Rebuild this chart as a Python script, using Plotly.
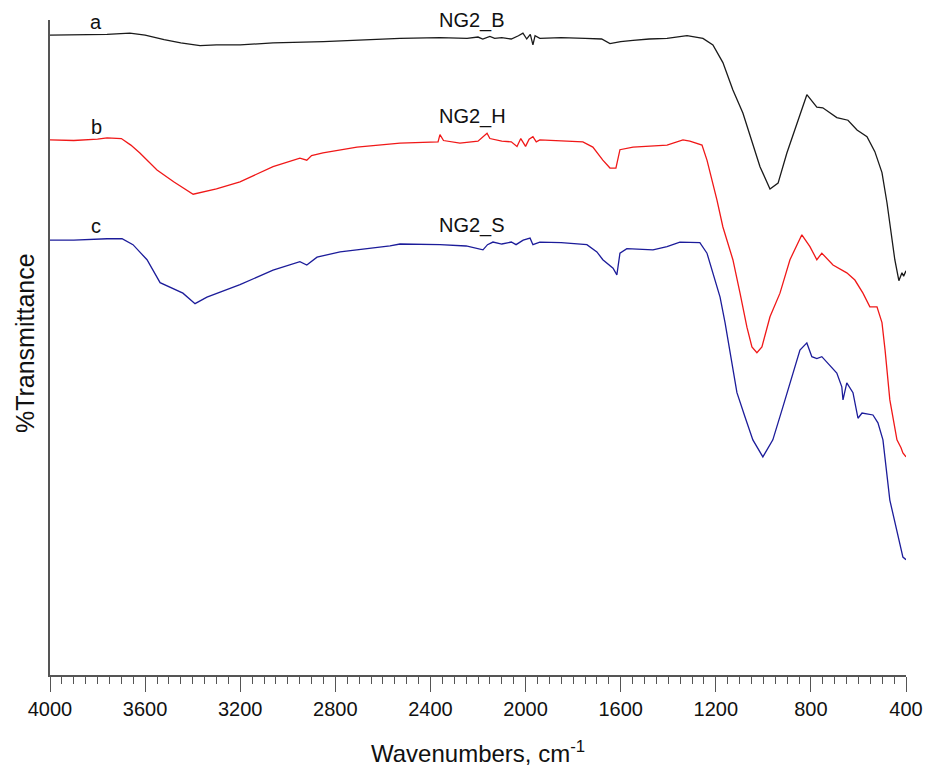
import plotly.graph_objects as go

# Wavenumbers (cm-1) and %Transmittance (arbitrary offset units)
wn_b = [4000, 3900, 3760, 3664, 3600, 3520, 3450, 3369, 3300, 3200, 3062, 2850, 2642, 2528, 2360, 2246, 2200, 2180,
        2150, 2130, 2100, 2060, 2030, 2011, 1995, 1980, 1969, 1960, 1940, 1850, 1750, 1680, 1645, 1600, 1548, 1480,
        1405, 1321, 1254, 1212, 1170, 1128, 1086, 1044, 1014, 972, 938, 901, 859, 817, 775, 750, 691, 644, 606, 564,
        531, 501, 480, 459, 447, 430, 417, 410, 400]
t_b = [97.7, 97.7, 97.8, 98.0, 97.7, 97.0, 96.5, 96.1, 96.2, 96.2, 96.5, 96.7, 97.0, 97.2, 97.3, 97.2, 97.4, 97.1,
       97.5, 97.2, 97.3, 97.1, 97.6, 98.0, 97.1, 97.8, 96.2, 97.6, 97.2, 97.3, 97.2, 97.1, 96.4, 96.7, 96.9, 97.1,
       97.2, 97.6, 97.2, 96.2, 93.5, 89.3, 85.8, 81.2, 77.6, 74.2, 75.1, 79.7, 84.3, 88.6, 86.7, 86.6, 85.1, 84.7, 83.2, 82.2,
       79.9, 76.7, 72.1, 66.4, 63.4, 60.2, 61.4, 60.9, 61.7]

wn_h = [4000, 3900, 3800, 3760, 3700, 3660, 3622, 3550, 3480, 3398, 3300, 3201, 3062, 2949, 2920, 2900, 2852, 2709,
        2528, 2368, 2360, 2345, 2276, 2200, 2162, 2150, 2100, 2060, 2036, 2020, 2000, 1985, 1969, 1955, 1940, 1850,
        1759, 1717, 1675, 1645, 1620, 1603, 1548, 1405, 1338, 1309, 1258, 1237, 1216, 1195, 1170, 1140, 1128, 1098,
        1069, 1048, 1027, 1006, 972, 930, 888, 838, 804, 775, 754, 707, 649, 615, 581, 552, 522, 501, 488, 468, 438,
        421, 413, 400]
t_h = [81.7, 81.6, 81.8, 82.0, 81.9, 80.9, 79.7, 77.1, 75.3, 73.4, 74.2, 75.3, 77.6, 78.9, 78.6, 79.3, 79.7, 80.6,
       81.2, 81.4, 82.5, 81.6, 81.2, 81.5, 82.7, 81.9, 81.5, 81.4, 80.7, 81.9, 80.7, 81.8, 82.2, 81.4, 81.7, 81.5,
       81.4, 80.6, 78.6, 77.4, 77.4, 80.2, 80.6, 80.9, 81.7, 81.5, 80.9, 78.6, 75.6, 72.5, 68.4, 64.9, 63.4, 58.3,
       53.1, 50.1, 49.2, 50.1, 54.7, 58.3, 63.4, 67.2, 65.4, 63.4, 64.4, 62.6, 61.4, 60.3, 58.3, 56.2, 56.2, 53.8, 49.6, 42.0, 35.9,
       34.7, 33.9, 33.3]

wn_s = [4000, 3900, 3760, 3697, 3651, 3592, 3537, 3495, 3441, 3390, 3340, 3201, 3062, 2949, 2920, 2877, 2780, 2570,
        2528, 2360, 2250, 2179, 2160, 2137, 2100, 2060, 2040, 2010, 1981, 1969, 1940, 1850, 1742, 1700, 1675, 1632,
        1616, 1603, 1574, 1464, 1405, 1351, 1309, 1267, 1237, 1212, 1182, 1161, 1140, 1111, 1077, 1044, 1002, 960,
        918, 888, 846, 817, 796, 775, 754, 691, 670, 665, 649, 623, 602, 585, 539, 518, 497, 468, 438, 421, 413, 400]
t_s = [66.4, 66.4, 66.6, 66.6, 65.7, 63.4, 59.9, 59.2, 58.3, 56.7, 57.7, 59.6, 61.8, 63.1, 62.6, 63.8, 64.6, 65.5,
       65.8, 65.7, 65.5, 64.9, 65.7, 66.1, 65.8, 66.1, 65.7, 66.4, 66.7, 65.7, 66.1, 66.0, 65.7, 64.6, 63.4, 62.1,
       61.1, 64.4, 65.1, 64.9, 65.4, 66.1, 66.1, 66.0, 64.4, 61.4, 57.7, 53.8, 49.2, 43.1, 39.4, 35.9, 33.3, 35.9,
       40.9, 44.6, 49.6, 50.7, 48.6, 48.3, 48.6, 46.1, 44.0, 42.0, 44.6, 43.1, 39.2, 40.0, 39.7, 38.5, 35.9, 26.7, 21.7, 18.8, 18.0, 17.6]

series = [
    ("NG2_B", "a", wn_b, t_b, "#1a1a1a"),
    ("NG2_H", "b", wn_h, t_h, "#f01818"),
    ("NG2_S", "c", wn_s, t_s, "#1c1c9a"),
]
# label positions (wavenumber, paper-y)
letter_wn = 3805
name_wn = 2225
label_y = [0.997, 0.837, 0.685]
name_y = [0.9985, 0.853, 0.687]

FONT = "Liberation Sans, Arial, sans-serif"

fig = go.Figure()
for name, letter, x, y, col in series:
    fig.add_trace(go.Scatter(x=x, y=y, mode="lines", name=name,
                             line=dict(color=col, width=1.3), showlegend=False))

ann = []
for i, (name, letter, x, y, col) in enumerate(series):
    ann.append(dict(x=letter_wn, y=label_y[i], xref="x", yref="paper", text=letter, showarrow=False,
                    font=dict(size=20, family=FONT, color="#111"), xanchor="center", yanchor="middle"))
    ann.append(dict(x=name_wn, y=name_y[i], xref="x", yref="paper", text=name, showarrow=False,
                    font=dict(size=20, family=FONT, color="#111"), xanchor="center", yanchor="middle"))

ann.append(dict(x=0.5, y=-0.118, xref="paper", yref="paper", text="Wavenumbers, cm<sup>-1</sup>",
                showarrow=False, font=dict(size=24, family=FONT, color="#111"), xanchor="center", yanchor="middle"))
ann.append(dict(x=-0.029, y=0.507, xref="paper", yref="paper", text="%Transmittance", textangle=-90,
                showarrow=False, font=dict(size=25, family=FONT, color="#111"), xanchor="center", yanchor="middle"))

fig.update_layout(
    width=938, height=769,
    margin=dict(l=50, r=32, t=20, b=94),
    paper_bgcolor="white", plot_bgcolor="white",
    font=dict(family=FONT, color="#111"),
    annotations=ann,
    xaxis=dict(range=[4000, 400], tickvals=[4000, 3600, 3200, 2800, 2400, 2000, 1600, 1200, 800, 400],
               ticktext=["4000", "3600", "3200", "2800", "2400", "2000", "1600", "1200", "800", "400"],
               ticks="outside", ticklen=15, tickwidth=1, tickcolor="#555",
               minor=dict(dtick=50, ticks="outside", ticklen=7, tickwidth=1, tickcolor="#555"),
               showline=True, linecolor="#555", linewidth=1.5, showgrid=False, zeroline=False,
               tickfont=dict(size=20, family=FONT, color="#111")),
    yaxis=dict(range=[0, 100], showticklabels=False, ticks="", showline=True, linecolor="#555", linewidth=1.5,
               showgrid=False, zeroline=False),
)

fig.write_html("out.html")
